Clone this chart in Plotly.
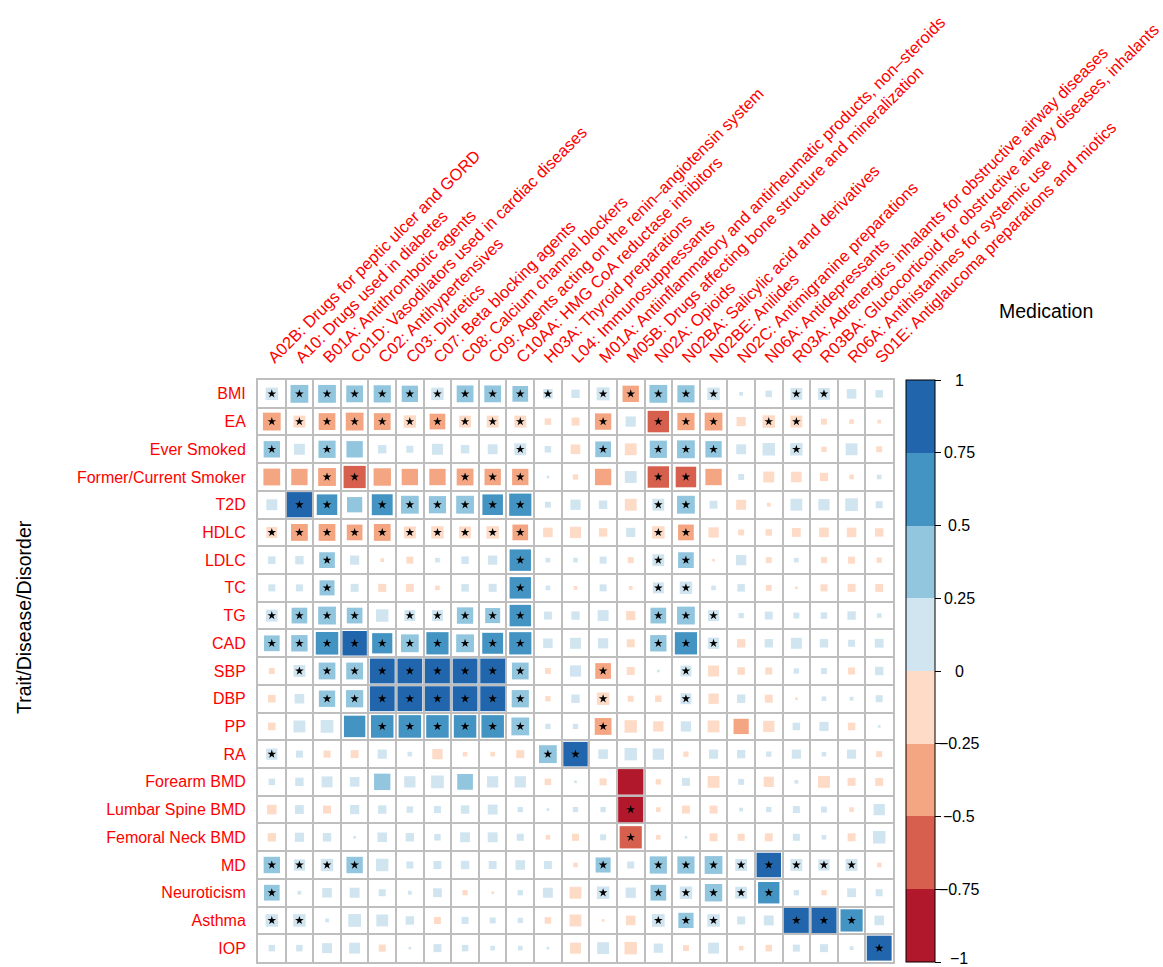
import math
import plotly.graph_objects as go

# Medication classes (columns) and traits (rows)
medications = [
    "A02B: Drugs for peptic ulcer and GORD",
    "A10: Drugs used in diabetes",
    "B01A: Antithrombotic agents",
    "C01D: Vasodilators used in cardiac diseases",
    "C02: Antihypertensives",
    "C03: Diuretics",
    "C07: Beta blocking agents",
    "C08: Calcium channel blockers",
    "C09: Agents acting on the renin\u2013angiotensin system",
    "C10AA: HMG CoA reductase inhibitors",
    "H03A: Thyroid preparations",
    "L04: Immunosuppressants",
    "M01A: Antiinflammatory and antirheumatic products, non\u2013steroids",
    "M05B: Drugs affecting bone structure and mineralization",
    "N02A: Opioids",
    "N02BA: Salicylic acid and derivatives",
    "N02BE: Anilides",
    "N02C: Antimigranine preparations",
    "N06A: Antidepressants",
    "R03A: Adrenergics inhalants for obstructive airway diseases",
    "R03BA: Glucocorticoid for obstructive airway diseases, inhalants",
    "R06A: Antihistamines for systemic use",
    "S01E: Antiglaucoma preparations and miotics",
]

traits = ["BMI", "EA", "Ever Smoked", "Former/Current Smoker", "T2D", "HDLC",
          "LDLC", "TC", "TG", "CAD", "SBP", "DBP", "PP", "RA", "Forearm BMD",
          "Lumbar Spine BMD", "Femoral Neck BMD", "MD", "Neuroticism",
          "Asthma", "IOP"]

# Genetic correlations, one list per trait (same order as medications)
rg_bmi = [0.22, 0.45, 0.45, 0.40, 0.42, 0.38, 0.22, 0.40, 0.40, 0.35, 0.13, 0.10, 0.24, -0.38, 0.45, 0.42, 0.22, 0.02, 0.06, 0.20, 0.20, 0.13, 0.08]
rg_ea = [-0.45, -0.20, -0.40, -0.45, -0.40, -0.22, -0.35, -0.20, -0.20, -0.20, -0.06, -0.09, -0.38, 0.15, -0.65, -0.42, -0.45, -0.12, -0.22, -0.20, -0.05, -0.03, -0.02]
rg_ever_smoked = [0.38, 0.17, 0.42, 0.38, 0.10, 0.07, 0.17, 0.10, 0.14, 0.20, 0.06, -0.13, 0.35, -0.20, 0.42, 0.45, 0.38, 0.14, 0.22, 0.22, -0.04, 0.20, -0.05]
rg_former_current = [-0.40, -0.38, -0.45, -0.70, -0.43, -0.38, -0.38, -0.40, -0.38, -0.38, 0.01, -0.04, -0.38, 0.20, -0.65, -0.60, -0.38, 0.05, -0.17, -0.16, -0.10, -0.03, 0.03]
rg_t2d = [0.17, 0.90, 0.60, 0.33, 0.62, 0.45, 0.42, 0.45, 0.60, 0.70, 0.05, 0.15, 0.10, -0.20, 0.20, 0.45, 0.09, -0.14, -0.02, 0.20, 0.18, 0.23, 0.07]
rg_hdlc = [-0.17, -0.40, -0.40, -0.35, -0.40, -0.20, -0.22, -0.20, -0.22, -0.35, -0.13, -0.18, -0.10, 0.12, -0.22, -0.35, -0.15, -0.05, -0.06, -0.11, -0.13, -0.13, -0.10]
rg_ldlc = [0.08, 0.10, 0.35, 0.12, -0.02, -0.07, 0.03, 0.08, 0.12, 0.65, 0.03, 0.03, 0.07, -0.05, 0.20, 0.35, -0.01, 0.15, -0.05, 0.03, -0.05, -0.07, -0.04]
rg_tc = [0.07, 0.07, 0.32, 0.09, -0.09, -0.09, -0.03, 0.08, 0.09, 0.65, 0.03, -0.02, 0.07, -0.02, 0.17, 0.22, 0.03, 0.08, -0.05, -0.01, -0.07, -0.09, -0.09]
rg_tg = [0.20, 0.35, 0.45, 0.35, 0.22, 0.17, 0.17, 0.38, 0.32, 0.65, 0.09, 0.10, 0.17, -0.12, 0.35, 0.45, 0.17, 0.04, 0.09, 0.05, 0.06, 0.10, 0.03]
rg_cad = [0.35, 0.38, 0.72, 0.85, 0.58, 0.45, 0.70, 0.45, 0.62, 0.70, 0.13, 0.17, 0.15, -0.09, 0.38, 0.70, 0.18, -0.10, 0.10, 0.17, 0.10, 0.07, 0.11]
rg_sbp = [-0.05, 0.20, 0.40, 0.40, 0.88, 0.88, 0.88, 0.88, 0.88, 0.40, -0.05, 0.18, -0.35, -0.09, 0.01, 0.17, -0.17, -0.08, -0.07, 0.04, 0.05, -0.07, 0.10]
rg_dbp = [-0.08, 0.13, 0.38, 0.42, 0.88, 0.88, 0.88, 0.88, 0.88, 0.42, -0.04, 0.10, -0.22, -0.05, -0.06, 0.17, -0.15, 0.10, -0.09, -0.01, 0.03, 0.02, 0.07]
rg_pp = [-0.08, 0.20, 0.23, 0.65, 0.72, 0.72, 0.72, 0.72, 0.72, 0.45, 0.04, 0.04, -0.40, -0.22, -0.15, 0.15, -0.20, -0.33, -0.18, 0.08, 0.12, -0.08, 0.01]
rg_ra = [0.18, 0.07, -0.07, -0.09, 0.12, 0.03, -0.15, -0.03, -0.03, -0.09, 0.45, 0.85, 0.13, 0.22, 0.18, -0.04, 0.12, 0.10, 0.04, 0.12, 0.03, 0.12, -0.05]
rg_forearm_bmd = [0.06, 0.10, 0.17, 0.13, 0.38, 0.18, 0.23, 0.35, 0.18, 0.18, -0.06, 0.01, -0.07, -0.92, -0.04, 0.09, -0.20, 0.05, -0.15, 0.02, -0.20, -0.09, -0.09]
rg_lumbar_bmd = [-0.13, 0.11, -0.09, 0.12, 0.10, 0.06, 0.07, 0.10, 0.14, 0.04, 0.01, 0.04, 0.04, -0.90, -0.03, -0.09, -0.09, 0.02, 0.04, 0.07, 0.05, -0.03, 0.18]
rg_femoral_bmd = [-0.10, 0.12, 0.10, 0.01, 0.13, 0.10, 0.06, 0.14, 0.14, 0.07, -0.03, -0.07, 0.05, -0.70, -0.03, 0.01, -0.09, -0.07, -0.09, 0.07, 0.03, -0.09, 0.22]
rg_md = [0.38, 0.18, 0.22, 0.38, 0.22, 0.07, 0.09, 0.10, 0.09, 0.13, 0.09, -0.03, 0.32, 0.07, 0.42, 0.42, 0.45, 0.20, 0.85, 0.20, 0.18, 0.20, -0.03]
rg_neuroticism = [0.35, 0.02, 0.13, 0.14, 0.07, 0.02, 0.11, -0.04, -0.01, 0.04, 0.14, -0.20, 0.22, 0.15, 0.35, 0.22, 0.43, 0.20, 0.65, 0.04, -0.04, 0.11, 0.07]
rg_asthma = [0.22, 0.22, 0.02, 0.23, 0.20, 0.10, -0.07, 0.07, 0.05, 0.04, -0.06, -0.20, -0.01, -0.13, 0.23, 0.33, 0.22, 0.09, 0.14, 0.88, 0.90, 0.70, 0.13]
rg_iop = [0.06, 0.06, 0.14, 0.17, -0.07, 0.01, 0.09, 0.06, 0.03, 0.03, 0.01, -0.17, 0.20, -0.22, 0.12, -0.05, 0.17, -0.03, -0.06, 0.07, 0.09, 0.02, 0.88]

# Significance flags (1 = significant), same layout as the correlations
sig_bmi = [1, 1, 1, 1, 1, 1, 1, 1, 1, 1, 1, 0, 1, 1, 1, 1, 1, 0, 0, 1, 1, 0, 0]
sig_ea = [1, 1, 1, 1, 1, 1, 1, 1, 1, 1, 0, 0, 1, 0, 1, 1, 1, 0, 1, 1, 0, 0, 0]
sig_ever_smoked = [1, 0, 1, 0, 0, 0, 0, 0, 0, 1, 0, 0, 1, 0, 1, 1, 1, 0, 0, 1, 0, 0, 0]
sig_former_current = [0, 0, 1, 1, 0, 0, 0, 1, 1, 1, 0, 0, 0, 0, 1, 1, 0, 0, 0, 0, 0, 0, 0]
sig_t2d = [0, 1, 1, 0, 1, 1, 1, 1, 1, 1, 0, 0, 0, 0, 1, 1, 0, 0, 0, 0, 0, 0, 0]
sig_hdlc = [1, 1, 1, 1, 1, 1, 1, 1, 1, 1, 0, 0, 0, 0, 1, 1, 0, 0, 0, 0, 0, 0, 0]
sig_ldlc = [0, 0, 1, 0, 0, 0, 0, 0, 0, 1, 0, 0, 0, 0, 1, 1, 0, 0, 0, 0, 0, 0, 0]
sig_tc = [0, 0, 1, 0, 0, 0, 0, 0, 0, 1, 0, 0, 0, 0, 1, 1, 0, 0, 0, 0, 0, 0, 0]
sig_tg = [1, 1, 1, 1, 0, 1, 1, 1, 1, 1, 0, 0, 0, 0, 1, 1, 1, 0, 0, 0, 0, 0, 0]
sig_cad = [1, 1, 1, 1, 1, 1, 1, 1, 1, 1, 0, 0, 0, 0, 1, 1, 1, 0, 0, 0, 0, 0, 0]
sig_sbp = [0, 1, 1, 1, 1, 1, 1, 1, 1, 1, 0, 0, 1, 0, 0, 1, 0, 0, 0, 0, 0, 0, 0]
sig_dbp = [0, 0, 1, 1, 1, 1, 1, 1, 1, 1, 0, 0, 1, 0, 0, 1, 0, 0, 0, 0, 0, 0, 0]
sig_pp = [0, 0, 0, 0, 1, 1, 1, 1, 1, 1, 0, 0, 1, 0, 0, 0, 0, 0, 0, 0, 0, 0, 0]
sig_ra = [1, 0, 0, 0, 0, 0, 0, 0, 0, 0, 1, 1, 0, 0, 0, 0, 0, 0, 0, 0, 0, 0, 0]
sig_forearm_bmd = [0] * 23
sig_lumbar_bmd = [0, 0, 0, 0, 0, 0, 0, 0, 0, 0, 0, 0, 0, 1, 0, 0, 0, 0, 0, 0, 0, 0, 0]
sig_femoral_bmd = [0, 0, 0, 0, 0, 0, 0, 0, 0, 0, 0, 0, 0, 1, 0, 0, 0, 0, 0, 0, 0, 0, 0]
sig_md = [1, 1, 1, 1, 0, 0, 0, 0, 0, 0, 0, 0, 1, 0, 1, 1, 1, 1, 1, 1, 1, 1, 0]
sig_neuroticism = [1, 0, 0, 0, 0, 0, 0, 0, 0, 0, 0, 0, 1, 0, 1, 1, 1, 1, 1, 0, 0, 0, 0]
sig_asthma = [1, 1, 0, 0, 0, 0, 0, 0, 0, 0, 0, 0, 0, 0, 1, 1, 1, 0, 0, 1, 1, 1, 0]
sig_iop = [0, 0, 0, 0, 0, 0, 0, 0, 0, 0, 0, 0, 0, 0, 0, 0, 0, 0, 0, 0, 0, 0, 1]

rg_rows = [rg_bmi, rg_ea, rg_ever_smoked, rg_former_current, rg_t2d, rg_hdlc,
           rg_ldlc, rg_tc, rg_tg, rg_cad, rg_sbp, rg_dbp, rg_pp, rg_ra,
           rg_forearm_bmd, rg_lumbar_bmd, rg_femoral_bmd, rg_md,
           rg_neuroticism, rg_asthma, rg_iop]
sig_rows = [sig_bmi, sig_ea, sig_ever_smoked, sig_former_current, sig_t2d,
            sig_hdlc, sig_ldlc, sig_tc, sig_tg, sig_cad, sig_sbp, sig_dbp,
            sig_pp, sig_ra, sig_forearm_bmd, sig_lumbar_bmd, sig_femoral_bmd,
            sig_md, sig_neuroticism, sig_asthma, sig_iop]

# 8-step RdBu palette, from -1 to 1
palette = ["#B2182B", "#D6604D", "#F4A582", "#FDDBC7",
           "#D1E5F0", "#92C5DE", "#4393C3", "#2166AC"]
cbar_ticks = [1, 0.75, 0.5, 0.25, 0, -0.25, -0.5, -0.75, -1]

FONT = "Liberation Sans, Arial, Helvetica, sans-serif"
GRID = "#BEBEBE"
n_cols = len(medications)
n_rows = len(traits)


def bin_color(v):
    idx = int(math.floor((v + 1) / 0.25))
    return palette[max(0, min(7, idx))]


# Squares: area proportional to |r|, colour by bin
shapes = []
star_x, star_y = [], []
for i, (vals, sigs) in enumerate(zip(rg_rows, sig_rows)):
    for j, (v, s) in enumerate(zip(vals, sigs)):
        half = math.sqrt(abs(v)) * 0.96 / 2
        cx, cy = j + 0.5, i + 0.5
        shapes.append(dict(
            type="rect", xref="x", yref="y", layer="between",
            x0=cx - half, x1=cx + half, y0=cy - half, y1=cy + half,
            fillcolor=bin_color(v), line=dict(width=0),
        ))
        if s:
            star_x.append(cx)
            star_y.append(cy)

fig = go.Figure()

fig.add_trace(go.Scatter(
    x=star_x, y=star_y, mode="markers",
    marker=dict(symbol="star", size=6.5, color="black", line=dict(width=0)),
    hoverinfo="skip", showlegend=False,
))

# Discrete colour scale for the colour bar
colorscale = []
for k, c in enumerate(palette):
    colorscale.append([k / 8, c])
    colorscale.append([(k + 1) / 8, c])

fig.add_trace(go.Scatter(
    x=[n_cols / 2], y=[n_rows / 2], mode="markers",
    marker=dict(
        size=1, opacity=0, color=[0], cmin=-1, cmax=1,
        colorscale=colorscale, showscale=True,
        colorbar=dict(
            x=(906 - 258) / 635, xanchor="left", xpad=0,
            y=0.5, yanchor="middle", ypad=0,
            len=1, lenmode="fraction", thickness=29,
            outlinewidth=1, outlinecolor="black",
            ticks="outside", ticklen=6, tickcolor="black", tickwidth=1,
            tickvals=cbar_ticks, showticklabels=False,
        ),
    ),
    hoverinfo="skip", showlegend=False,
))

annotations = []
for t in cbar_ticks:
    label = f"{abs(t):g}"
    if t < 0:
        label = "\u2212" + label
    annotations.append(dict(
        xref="paper", yref="paper", x=(959 - 258) / 635, y=(t + 1) / 2,
        yshift=4 if t == -1 else 0,
        text=label, showarrow=False, xanchor="center", yanchor="middle",
        font=dict(family=FONT, size=16, color="black"),
    ))

annotations.append(dict(
    xref="paper", yref="paper", x=(1046 - 258) / 635, y=1 + (380 - 311) / 582,
    text="Medication", showarrow=False, xanchor="center", yanchor="middle",
    font=dict(family=FONT, size=19.5, color="black"),
))
annotations.append(dict(
    xref="paper", yref="paper", x=(24 - 258) / 635, y=(962 - 617) / 582,
    text="Trait/Disease/Disorder", showarrow=False, textangle=-90,
    xanchor="center", yanchor="middle",
    font=dict(family=FONT, size=19.5, color="black"),
))

fig.update_layout(
    width=1163, height=967,
    margin=dict(l=258, r=1163 - 893, t=380, b=967 - 962, pad=0,
                autoexpand=False),
    paper_bgcolor="white", plot_bgcolor="white",
    shapes=shapes, annotations=annotations, showlegend=False,
    font=dict(family=FONT),
    xaxis=dict(
        range=[0, n_cols], side="top", automargin=False,
        tickmode="array", tickvals=[j + 0.5 for j in range(n_cols)],
        ticktext=medications, tickangle=-45, ticks="",
        ticklabeloverflow="allow", ticklabelstandoff=5, ticklabelshift=-3,
        tickfont=dict(family=FONT, size=16.5, color="#FF0000"),
        showgrid=False, zeroline=False,
        showline=True, mirror=True, linecolor=GRID, linewidth=2,
        minor=dict(tickmode="array", tickvals=list(range(n_cols + 1)),
                   showgrid=True, gridcolor=GRID, gridwidth=2, ticks=""),
        fixedrange=True,
    ),
    yaxis=dict(
        range=[n_rows, 0], automargin=False,
        tickmode="array", tickvals=[i + 0.5 for i in range(n_rows)],
        ticktext=traits, ticks="", ticklabelstandoff=7,
        tickfont=dict(family=FONT, size=16, color="#FF0000"),
        showgrid=False, zeroline=False,
        showline=True, mirror=True, linecolor=GRID, linewidth=2,
        minor=dict(tickmode="array", tickvals=list(range(n_rows + 1)),
                   showgrid=True, gridcolor=GRID, gridwidth=2, ticks=""),
        fixedrange=True,
    ),
)

fig.write_html("out.html")
